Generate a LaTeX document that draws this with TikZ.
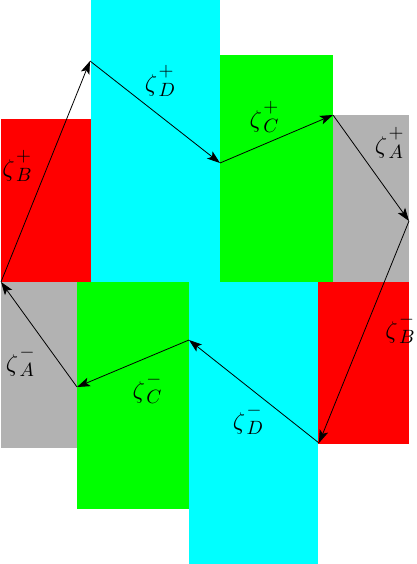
\documentclass[tikz,border=0pt]{standalone}
\usetikzlibrary{arrows.meta}
\definecolor{cred}{rgb}{1,0,0}
\definecolor{ccyan}{rgb}{0,1,1}
\definecolor{cgreen}{rgb}{0,1,0}
\definecolor{cgray}{rgb}{0.7,0.7,0.7}
\newcommand{\zlab}[2]{\scalebox{2.4}{$\zeta$\kern0.06em\rlap{\raisebox{0.6em}{\scalebox{0.8}{$#1$}}}\raisebox{-0.2em}{\scalebox{0.8}{$#2$}}}}
\begin{document}
\begin{tikzpicture}[x=1pt,y=-1pt,
  edge/.style={-{Stealth[length=13pt,width=9pt,inset=3pt]}, line width=0.8pt},
  lab/.style={inner sep=0pt}]
\useasboundingbox (0,0) rectangle (416,564);
% regions
\fill[ccyan] (91,0) rectangle (220,282);
\fill[cgreen] (220,55) rectangle (333,282);
\fill[cgray] (333,115) rectangle (409,282);
\fill[cred] (1,119) rectangle (91,282);
\fill[cgray] (1,282) rectangle (77,448);
\fill[cgreen] (77,282) rectangle (189,509);
\fill[ccyan] (189,282) rectangle (318,564);
\fill[cred] (318,282) rectangle (409,444);
% path points
\coordinate (p1) at (1,282);
\coordinate (p2) at (90,61);
\coordinate (p3) at (220,163);
\coordinate (p4) at (333,115);
\coordinate (p5) at (409,221);
\coordinate (p6) at (319,443);
\coordinate (p7) at (189,340);
\coordinate (p8) at (77,387);
\draw[edge] (p1) -- (p2);
\draw[edge] (p2) -- (p3);
\draw[edge] (p3) -- (p4);
\draw[edge] (p4) -- (p5);
\draw[edge] (p5) -- (p6);
\draw[edge] (p6) -- (p7);
\draw[edge] (p7) -- (p8);
\draw[edge] (p8) -- (p1);
% labels
\node[lab] (lBp) at (17,166) {\zlab{+}{B}};
\node[lab] (lDp) at (160,81) {\zlab{+}{D}};
\node[lab] (lCp) at (264,117) {\zlab{+}{C}};
\node[lab] (lAp) at (389,143) {\zlab{+}{A}};
\node[lab] (lBm) at (400,328) {\zlab{-}{B}};
\node[lab] (lDm) at (248,419) {\zlab{-}{D}};
\node[lab] (lCm) at (147,388) {\zlab{-}{C}};
\node[lab] (lAm) at (20,361) {\zlab{-}{A}};
\end{tikzpicture}
\end{document}
